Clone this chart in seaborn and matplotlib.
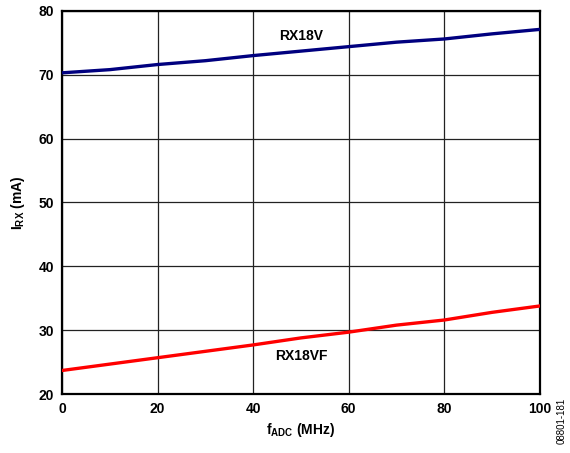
import pandas as pd
import matplotlib
matplotlib.use("Agg")
import matplotlib.pyplot as plt
import seaborn as sns

# Data
freq_mhz = [0, 10, 20, 30, 40, 50, 60, 70, 80, 90, 100]
rx18v = [70.3, 70.8, 71.6, 72.2, 73.0, 73.7, 74.4, 75.1, 75.6, 76.4, 77.1]
rx18vf = [23.7, 24.7, 25.7, 26.7, 27.7, 28.8, 29.7, 30.8, 31.6, 32.8, 33.8]

x_ticks = [0, 20, 40, 60, 80, 100]
y_ticks = [20, 30, 40, 50, 60, 70, 80]

sns.set_style("white")
plt.rcParams['font.family'] = ['Liberation Sans', 'DejaVu Sans']
plt.rcParams['font.weight'] = 'bold'
plt.rcParams['text.color'] = 'black'
plt.rcParams['axes.labelcolor'] = 'black'
plt.rcParams['xtick.color'] = 'black'
plt.rcParams['ytick.color'] = 'black'
plt.rcParams['mathtext.fontset'] = 'custom'
plt.rcParams['mathtext.rm'] = 'Liberation Sans:bold'
plt.rcParams['mathtext.bf'] = 'Liberation Sans:bold'
plt.rcParams['mathtext.it'] = 'Liberation Sans:bold'

df = pd.DataFrame({
    "freq": freq_mhz * 2,
    "current": rx18v + rx18vf,
    "supply": ["RX18V"] * len(freq_mhz) + ["RX18VF"] * len(freq_mhz),
})

fig = plt.figure(figsize=(5.7, 4.53), dpi=100)
ax = fig.add_axes([0.109, 0.130, 0.838, 0.846])

sns.lineplot(data=df, x="freq", y="current", hue="supply",
             palette={"RX18V": "#00007f", "RX18VF": "#ff0000"},
             linewidth=2.4, legend=False, ax=ax, zorder=3)

ax.set_xlim(0, 100)
ax.set_ylim(20, 80)
ax.set_xticks(x_ticks)
ax.set_yticks(y_ticks)
ax.grid(True, color="#222222", linewidth=0.9)
ax.tick_params(axis='both', labelsize=10, length=0, pad=6)
for lbl in ax.get_xticklabels() + ax.get_yticklabels():
    lbl.set_fontweight('bold')

for side in ax.spines.values():
    side.set_visible(True)
    side.set_color("black")
    side.set_linewidth(1.6)

ax.set_xlabel(r"$\mathrm{f_{ADC}}$ (MHz)", fontsize=10, fontweight='bold', labelpad=3)
ax.set_ylabel(r"$\mathrm{I_{RX}}$ (mA)", fontsize=10, fontweight='bold', labelpad=8)

# Curve labels
ax.text(50, 76.1, "RX18V", ha="center", va="center", fontsize=10, fontweight='bold')
ax.text(50, 26.0, "RX18VF", ha="center", va="center", fontsize=10, fontweight='bold')

# Figure id
fig.text(0.985, 0.02, "08801-181", rotation=90, ha="center", va="bottom",
         fontsize=7, fontweight='normal')

fig.savefig("out.png", dpi=100)
plt.close(fig)
